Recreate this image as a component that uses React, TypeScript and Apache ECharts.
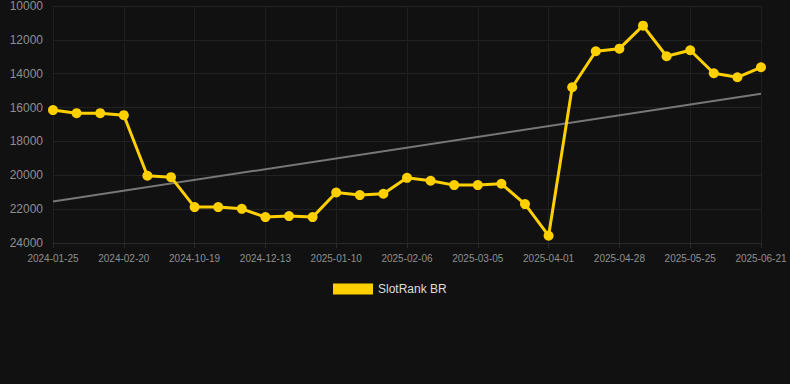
import React, { useEffect, useRef } from "react";
import * as echarts from "echarts";

const categories = [
  "2024-01-25", "2024-02-03", "2024-02-11", "2024-02-20", "2024-06-15", "2024-09-01",
  "2024-10-19", "2024-11-06", "2024-11-25", "2024-12-13", "2024-12-22", "2025-01-01",
  "2025-01-10", "2025-01-19", "2025-01-28", "2025-02-06", "2025-02-15", "2025-02-24",
  "2025-03-05", "2025-03-14", "2025-03-23", "2025-04-01", "2025-04-10", "2025-04-19",
  "2025-04-28", "2025-05-07", "2025-05-16", "2025-05-25", "2025-06-03", "2025-06-12",
  "2025-06-21",
];

const rankValues = [
  16150, 16330, 16330, 16450, 20030, 20110,
  21880, 21880, 21980, 22470, 22410, 22470,
  21015, 21170, 21090, 20150, 20325, 20580,
  20580, 20500, 21700, 23570, 14800, 12675,
  12520, 11160, 12970, 12615, 13975, 14210,
  13620,
];

const trendStart = 21545;
const trendEnd = 15190;

const yTicks = { min: 10000, max: 24000, interval: 2000 };

export default function App() {
  const ref = useRef<HTMLDivElement>(null);
  useEffect(() => {
    if (!ref.current) return;
    const chart = echarts.init(ref.current, undefined, { renderer: "svg" });
    const trendData = categories.map((_, i) =>
      i === 0 ? trendStart : i === categories.length - 1 ? trendEnd : null
    );
    const font = "'Liberation Sans', Arial, sans-serif";
    chart.setOption({
      animation: false,
      backgroundColor: "#111111",
      textStyle: { fontFamily: font },
      grid: { left: 53, right: 29, top: 6, bottom: 141, containLabel: false },
      legend: {
        data: ["SlotRank BR"],
        top: 278,
        left: 328,
        icon: "rect",
        itemWidth: 40,
        itemHeight: 11,
        itemGap: 6,
        textStyle: { color: "#dddddd", fontSize: 12, fontFamily: font },
      },
      xAxis: {
        type: "category",
        data: categories,
        boundaryGap: false,
        axisLine: { show: true, lineStyle: { color: "#2a2a2a" } },
        axisTick: { show: true, interval: 2, lineStyle: { color: "#2a2a2a" } },
        axisLabel: { interval: 2, color: "#8f8f8f", fontSize: 10, margin: 10, fontFamily: font },
        splitLine: { show: true, interval: 2, lineStyle: { color: "#1f1f1f" } },
      },
      yAxis: {
        type: "value",
        inverse: true,
        min: yTicks.min,
        max: yTicks.max,
        interval: yTicks.interval,
        axisLine: { show: false },
        axisTick: { show: false },
        axisLabel: {
          color: "#8f8f8f",
          fontSize: 12,
          margin: 10,
          fontFamily: font,
          formatter: (v: number) => String(v),
        },
        splitLine: { show: true, lineStyle: { color: "#222222" } },
      },
      series: [
        {
          name: "Trend",
          type: "line",
          data: trendData,
          connectNulls: true,
          showSymbol: false,
          symbol: "none",
          lineStyle: { color: "#777777", width: 2 },
          z: 1,
          silent: true,
        },
        {
          name: "SlotRank BR",
          type: "line",
          data: rankValues,
          symbol: "circle",
          symbolSize: 10,
          itemStyle: { color: "#FFD000" },
          lineStyle: { color: "#FFD000", width: 3 },
          z: 2,
        },
      ],
    });
    return () => chart.dispose();
  }, []);
  return (
    <div
      ref={ref}
      style={{ position: "fixed", left: 0, top: 0, width: 790, height: 384, background: "#111111" }}
    />
  );
}
